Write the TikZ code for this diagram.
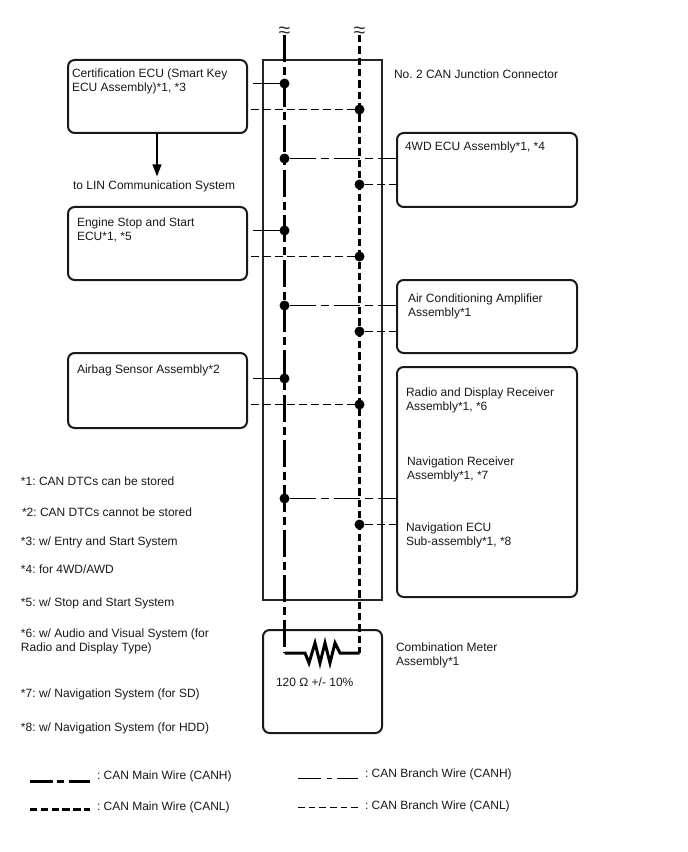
\documentclass[tikz,border=0pt]{standalone}
\usepackage{fontspec}
\setmainfont{Liberation Sans}
\usetikzlibrary{arrows.meta}
\tikzset{
  lbl/.style={font=\fontsize{9}{10.5}\selectfont\frenchspacing,anchor=north west,inner sep=0pt,outer sep=0pt,align=left,text=black!90},
  ecu/.style={draw=black!90,line width=1.5pt,rounded corners=5pt,anchor=north west,inner sep=0pt,outer sep=0pt},
  jbox/.style={draw=black!85,line width=.95pt,anchor=north west,inner sep=0pt,outer sep=0pt},
  dotn/.style={circle,fill=black,inner sep=0pt,outer sep=0pt,minimum size=7.5pt},
  mainh/.style={line width=2.25pt,dash pattern=on 20.25pt off 3.75pt on 6pt off 3.75pt},
  mainl/.style={line width=2.25pt,dash pattern=on 5.5pt off 3pt},
  branchh/.style={line width=1.05pt,dash pattern=on 20pt off 3.5pt on 6pt off 3.5pt},
  branchl/.style={line width=1.05pt,dash pattern=on 6pt off 3pt},
  squig/.style={font=\fontsize{16}{16}\selectfont,inner sep=0pt,outer sep=0pt,text=black!80}
}
\begin{document}
\begin{tikzpicture}[x=0.75pt,y=-0.75pt]
\useasboundingbox (0,0) rectangle (688,852);
\fill[white] (0,0) rectangle (688,852);
% boxes
\node[jbox,minimum width=119*.75pt,minimum height=540*.75pt] (junction) at (263,60) {};
\node[ecu,minimum width=179*.75pt,minimum height=73*.75pt] (cert) at (68,60) {};
\node[ecu,minimum width=180*.75pt,minimum height=74*.75pt] (fwd) at (397,133) {};
\node[ecu,minimum width=179*.75pt,minimum height=73*.75pt] (eng) at (68,207) {};
\node[ecu,minimum width=180*.75pt,minimum height=73*.75pt] (ac) at (397,280) {};
\node[ecu,minimum width=179*.75pt,minimum height=75*.75pt] (air) at (68,353) {};
\node[ecu,minimum width=180*.75pt,minimum height=230*.75pt] (radio) at (397,367) {};
\node[ecu,minimum width=119*.75pt,minimum height=103*.75pt] (meter) at (263,630) {};
% wire ends
\coordinate (hTop) at (284.5,35);
\coordinate (lTop) at (359.5,35);
\coordinate (hEnd) at (284.5,653);
\coordinate (lEnd) at (359.5,653);
% main wires
\draw[mainh] (hTop) -- (hEnd);
\draw[mainl] (lTop) -- (lEnd);
% squiggles
\node[squig] (s1) at (284.5,32) {≈};
\node[squig] (s2) at (359.5,32) {≈};
% junction dots
\node[dotn] (h1) at (284.5,83.5) {};
\node[dotn] (l1) at (359.5,109.5) {};
\node[dotn] (h2) at (284.5,158.5) {};
\node[dotn] (l2) at (359.5,184.5) {};
\node[dotn] (h3) at (284.5,230.5) {};
\node[dotn] (l3) at (359.5,256.5) {};
\node[dotn] (h4) at (284.5,305.5) {};
\node[dotn] (l4) at (359.5,331.5) {};
\node[dotn] (h5) at (284.5,378.5) {};
\node[dotn] (l5) at (359.5,404.5) {};
\node[dotn] (h6) at (284.5,498.5) {};
\node[dotn] (l6) at (359.5,524.5) {};
% branches
\draw[branchh] (h1) -- (cert.east |- h1);
\draw[branchl] (l1) -- (cert.east |- l1);
\draw[branchh] (h2) -- (h2 -| fwd.west);
\draw[branchl] (l2) -- (l2 -| fwd.west);
\draw[branchh] (h3) -- (eng.east |- h3);
\draw[branchl] (l3) -- (eng.east |- l3);
\draw[branchh] (h4) -- (h4 -| ac.west);
\draw[branchl] (l4) -- (l4 -| ac.west);
\draw[branchh] (h5) -- (air.east |- h5);
\draw[branchl] (l5) -- (air.east |- l5);
\draw[branchh] (h6) -- (h6 -| radio.west);
\draw[branchl] (l6) -- (l6 -| radio.west);
% resistor
\draw[line width=2.25pt,line join=miter] (hEnd) -- (305,653) -- (309,663) -- (315,643) -- (320,663) -- (325,643) -- (330,663) -- (335,643) -- (340,653) -- (lEnd);
% LIN
\node[lbl] (lin) at (73,181) {to LIN Communication System};
\draw[line width=1.5pt,-{Triangle[length=9pt,width=6.5pt]}] (157,133) -- (157,176.5);
% labels
\node[lbl] at (72,69) {Certification ECU (Smart Key\\ECU Assembly)*1, *3};
\node[lbl] at (394,70) {No. 2 CAN Junction Connector};
\node[lbl] at (405,142) {4WD ECU Assembly*1, *4};
\node[lbl] at (77,218) {Engine Stop and Start\\ECU*1, *5};
\node[lbl] at (408,293.5) {Air Conditioning Amplifier\\Assembly*1};
\node[lbl] at (77,365) {Airbag Sensor Assembly*2};
\node[lbl] at (406,388) {Radio and Display Receiver\\Assembly*1, *6};
\node[lbl] at (407,457) {Navigation Receiver\\Assembly*1, *7};
\node[lbl] at (406,523) {Navigation ECU\\Sub-assembly*1, *8};
\node[lbl] at (396,643) {Combination Meter\\Assembly*1};
\node[lbl] at (276,678) {120 Ω +/- 10\%};
\node[lbl] at (21,477) {*1: CAN DTCs can be stored};
\node[lbl] at (22,508) {*2: CAN DTCs cannot be stored};
\node[lbl] at (21,537) {*3: w/ Entry and Start System};
\node[lbl] at (21,565) {*4: for 4WD/AWD};
\node[lbl] at (21,598) {*5: w/ Stop and Start System};
\node[lbl] at (21,629) {*6: w/ Audio and Visual System (for\\Radio and Display Type)};
\node[lbl] at (21,689) {*7: w/ Navigation System (for SD)};
\node[lbl] at (21,723) {*8: w/ Navigation System (for HDD)};
% legend
\coordinate (a1) at (30,781.5); \coordinate (a2) at (90,781.5);
\coordinate (b1) at (30,809.5); \coordinate (b2) at (90,809.5);
\coordinate (c1) at (298,778.5); \coordinate (c2) at (358,778.5);
\coordinate (d1) at (298,807.5); \coordinate (d2) at (358,807.5);
\draw[line width=2.25pt,dash pattern=on 17pt off 3.5pt on 5pt off 3.5pt] (a1) -- (a2);
\draw[line width=2.25pt,dash pattern=on 5.5pt off 2.6pt] (b1) -- (b2);
\draw[line width=1.05pt,dash pattern=on 17.5pt off 4pt on 4pt off 4pt] (c1) -- (c2);
\draw[line width=1.05pt,dash pattern=on 5pt off 3pt] (d1) -- (d2);
\node[lbl] at (97,771) {: CAN Main Wire (CANH)};
\node[lbl] at (97,802) {: CAN Main Wire (CANL)};
\node[lbl] at (365,769) {: CAN Branch Wire (CANH)};
\node[lbl] at (365,801) {: CAN Branch Wire (CANL)};
\end{tikzpicture}
\end{document}
